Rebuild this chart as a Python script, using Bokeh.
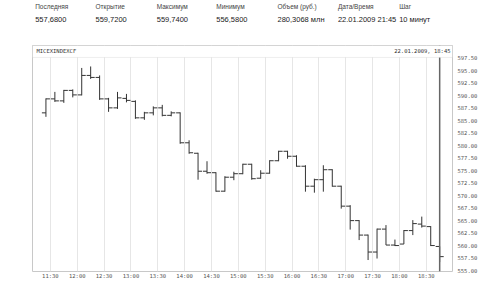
import pandas as pd
from bokeh.plotting import figure
from bokeh.layouts import column
from bokeh.core.properties import value
from bokeh.models import (Range1d, FixedTicker, Label, BoxAnnotation, Span,
                          ColumnDataSource, DatetimeTickFormatter, NumeralTickFormatter)
from bokeh.embed import file_html
from bokeh.resources import INLINE

# ---------------- data ----------------
session_date = "2009-01-22"
bar_times = ["11:25", "11:35", "11:45", "11:55", "12:05", "12:15", "12:25", "12:35",
             "12:45", "12:55", "13:05", "13:15", "13:25", "13:35", "13:45", "13:55",
             "14:05", "14:15", "14:25", "14:35", "14:45", "14:55", "15:05", "15:15",
             "15:25", "15:35", "15:45", "15:55", "16:05", "16:15", "16:25", "16:35",
             "16:45", "16:55", "17:05", "17:15", "17:25", "17:35", "17:45", "17:55",
             "18:05", "18:15", "18:25", "18:35", "18:45"]
opens = [586.5, 589.3, 588.9, 591.0, 590.1, 594.0, 593.6, 589.3,
         587.5, 589.4, 588.8, 585.5, 586.5, 587.5, 586.0, 586.5,
         580.5, 578.4, 574.8, 574.5, 570.8, 573.6, 574.3, 576.2,
         573.4, 574.4, 576.9, 578.8, 577.8, 575.8, 571.8, 573.1,
         575.1, 571.8, 567.8, 564.9, 562.0, 558.6, 563.2, 560.0,
         560.2, 562.9, 564.2, 563.7, 559.72]
highs = [589.4, 590.7, 591.1, 591.2, 595.5, 595.8, 594.0, 589.5,
         590.7, 590.3, 589.0, 586.7, 587.8, 588.1, 586.8, 586.6,
         581.0, 578.5, 576.8, 574.6, 573.8, 574.7, 576.3, 576.3,
         575.0, 577.0, 578.9, 578.9, 578.0, 576.0, 573.3, 576.0,
         575.2, 571.9, 568.0, 565.0, 562.1, 563.3, 564.0, 561.1,
         563.0, 565.0, 565.7, 563.8, 559.74]
lows = [585.7, 588.7, 588.5, 589.6, 590.0, 593.3, 589.1, 586.7,
        587.3, 588.6, 585.3, 585.1, 586.0, 585.8, 585.8, 580.3,
        578.3, 573.1, 574.3, 570.7, 570.7, 573.0, 574.2, 573.1,
        573.3, 574.3, 576.8, 577.3, 575.7, 570.7, 570.5, 570.7,
        571.7, 567.3, 563.1, 561.0, 557.0, 557.3, 560.0, 559.8,
        560.2, 562.0, 563.5, 559.8, 556.58]
closes = [589.3, 588.9, 591.0, 590.1, 594.0, 593.6, 589.3, 587.5,
          589.5, 589.0, 585.5, 586.5, 587.5, 586.0, 586.5, 580.5,
          578.5, 574.8, 574.5, 570.8, 573.6, 574.3, 576.2, 573.3,
          574.4, 576.9, 578.8, 577.8, 575.8, 571.8, 573.1, 575.1,
          571.8, 567.8, 564.9, 562.0, 558.6, 563.2, 560.0, 559.9,
          562.9, 564.3, 563.8, 559.9, 557.68]
bar_minutes = 10

x_tick_labels = ["11:30", "12:00", "12:30", "13:00", "13:30", "14:00", "14:30", "15:00",
                 "15:30", "16:00", "16:30", "17:00", "17:30", "18:00", "18:30"]
y_ticks = [555.0, 557.5, 560.0, 562.5, 565.0, 567.5, 570.0, 572.5, 575.0, 577.5,
           580.0, 582.5, 585.0, 587.5, 590.0, 592.5, 595.0, 597.5]

header_labels = ["Последняя", "Открытие", "Максимум", "Минимум", "Объем (руб.)", "Дата/Время", "Шаг"]
header_values = ["557,6800", "559,7200", "559,7400", "556,5800", "280,3068 млн", "22.01.2009 21:45", "10 минут"]
instrument = "MICEXINDEXCF"
stamp = "22.01.2009, 18:45"
cursor_time = "18:45"

# ---------------- layout constants ----------------
W = 480
HEAD_H = 30
H = 281 - HEAD_H
FL, FR, FT, FB = 32, 453, 45 - HEAD_H, 272 - HEAD_H   # frame edges on main canvas
x_start, x_end = "11:10", "18:59:20"
y_start, y_end = 554.7, 600.0
strip_bottom = 597.6
header_x = [3, 72, 142, 210, 280, 349, 419]
label_row_y, value_row_y = 6, 19

def ts(t):
    return pd.Timestamp(f"{session_date} {t}")

def ms(t):
    return (ts(t) - pd.Timestamp("1970-01-01")) / pd.Timedelta(milliseconds=1)

# ---------------- header (info table) ----------------
head = figure(width=W, height=HEAD_H, output_backend="svg", toolbar_location=None,
              x_range=Range1d(0, W), y_range=Range1d(HEAD_H, 0),
              min_border=0, outline_line_color=None)
head.axis.visible = False
head.grid.visible = False
head.background_fill_color = "white"
head.border_fill_color = "white"
head.text(x=header_x, y=[label_row_y] * len(header_x), text=header_labels,
          text_font=value("Arial"), text_font_size="6.5px",
          text_color="#444444", text_baseline="middle")
head.text(x=header_x, y=[value_row_y] * len(header_x), text=header_values,
          text_font=value("Arial"), text_font_size="7.5px",
          text_color="#222222", text_baseline="middle")

# ---------------- main chart ----------------
x = [ts(t) for t in bar_times]
half = pd.Timedelta(minutes=bar_minutes * 0.45)
src = ColumnDataSource(dict(
    x=x, xl=[v - half for v in x], xr=[v + half for v in x],
    o=opens, h=highs, l=lows, c=closes))

p = figure(width=W, height=H, x_axis_type="datetime", output_backend="svg",
           toolbar_location=None, x_range=Range1d(ts(x_start), ts(x_end)),
           y_range=Range1d(y_start, y_end), y_axis_location="right",
           min_border_left=FL, min_border_right=W - FR, min_border_top=FT,
           min_border_bottom=H - FB)
p.background_fill_color = "white"
p.border_fill_color = "white"
p.outline_line_color = "#c8c8c8"

p.xaxis.ticker = FixedTicker(ticks=[ms(t) for t in x_tick_labels])
p.xaxis.formatter = DatetimeTickFormatter(minutes="%H:%M", hourmin="%H:%M", hours="%H:%M",
                                          minsec="%H:%M", seconds="%H:%M", days="%H:%M")
p.yaxis.ticker = FixedTicker(ticks=y_ticks)
p.yaxis.formatter = NumeralTickFormatter(format="0.00")
for ax in (p.xaxis, p.yaxis):
    ax.axis_line_color = None
    ax.major_tick_line_color = None
    ax.minor_tick_line_color = None
    ax.major_tick_out = 0
    ax.major_tick_in = 0
    ax.major_label_text_font = "DejaVu Sans Mono"
    ax.major_label_text_font_size = "5.5px"
    ax.major_label_text_color = "#555555"
    ax.major_label_text_line_height = 1.0
p.xaxis.major_label_standoff = 1
p.yaxis.major_label_standoff = 5

p.xgrid.ticker = FixedTicker(ticks=[ms(t) for t in x_tick_labels])
p.xgrid.grid_line_color = "#e6e6e6"
p.ygrid.grid_line_color = None

bar_color = "#333333"
p.segment(x0="x", y0="l", x1="x", y1="h", source=src, line_color=bar_color, line_width=1)
p.segment(x0="xl", y0="o", x1="x", y1="o", source=src, line_color=bar_color, line_width=1)
p.segment(x0="x", y0="c", x1="xr", y1="c", source=src, line_color=bar_color, line_width=1)

p.add_layout(Span(location=ms(cursor_time), dimension="height", line_color="#666666", line_width=1.5))

p.add_layout(BoxAnnotation(bottom=strip_bottom, fill_color="white", fill_alpha=1,
                           line_color="#c8c8c8", line_width=1))
strip_y = FB - (51 - HEAD_H)
p.add_layout(Label(x=36 - FL, y=strip_y, x_units="screen", y_units="screen", text=instrument,
                   text_font="DejaVu Sans Mono", text_font_size="5.5px", text_color="#333333",
                   text_baseline="middle"))
p.add_layout(Label(x=450 - FL, y=strip_y, x_units="screen", y_units="screen", text=stamp,
                   text_font="DejaVu Sans Mono", text_font_size="5.5px", text_color="#333333",
                   text_baseline="middle", text_align="right"))

layout = column(head, p, spacing=0)
open("out.html", "w").write(file_html(layout, INLINE))
